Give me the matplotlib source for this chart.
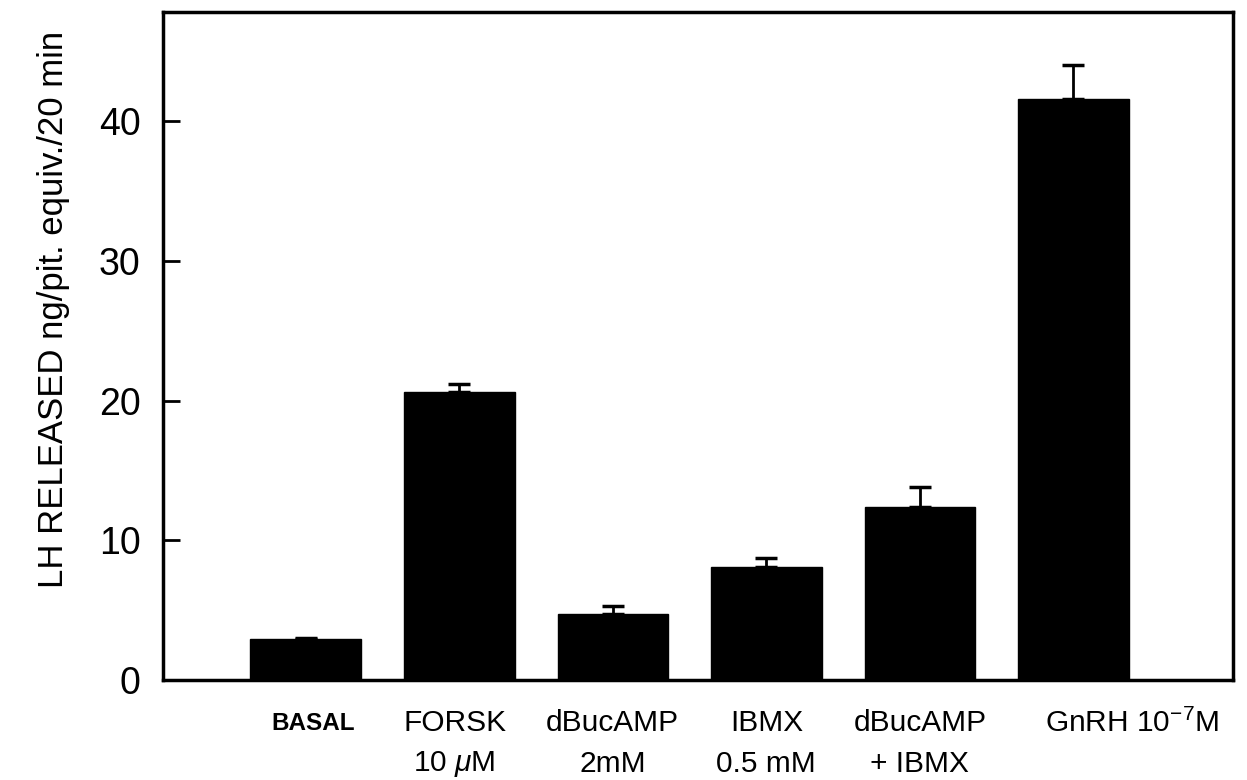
import matplotlib
matplotlib.use("Agg")
import matplotlib.pyplot as plt
import matplotlib.transforms as mtransforms
import numpy as np

# data
labels_top = ["BASAL", "FORSK", "dBucAMP", "IBMX", "dBucAMP", "GnRH 10$^{-7}$M"]
labels_bot = ["", "10 $\\mu$M", "2mM", "0.5 mM", "+ IBMX", ""]
lh_released = [2.9, 20.6, 4.7, 8.1, 12.4, 41.6]
sem = [0.1, 0.55, 0.6, 0.6, 1.4, 2.4]

plt.rcParams.update({
    "font.family": ["Liberation Sans", "DejaVu Sans"],
    "mathtext.fontset": "custom",
    "mathtext.rm": "Liberation Sans",
    "mathtext.it": "Liberation Sans:italic",
})

fig = plt.figure(figsize=(12.47, 7.8), dpi=100)
ax = fig.add_axes([0.1307, 0.1282, 0.8581, 0.8564])

x = np.arange(len(lh_released))
yerr = [np.zeros(len(sem)), sem]
ax.bar(x, lh_released, width=0.72, color="black", edgecolor="black", zorder=2)
ax.errorbar(x, lh_released, yerr=yerr, fmt="none", ecolor="black",
            elinewidth=2, capsize=8, capthick=2.5, zorder=3)

ax.set_xlim(-0.93, 6.04)
ax.set_ylim(0, 47.8)
ax.set_yticks([0, 10, 20, 30, 40])
ax.tick_params(axis="y", direction="in", length=12, width=2, labelsize=27, pad=16)
ax.set_xticks([])
for s in ax.spines.values():
    s.set_linewidth(2.5)

ax.set_ylabel("LH RELEASED ng/pit. equiv./20 min", fontsize=25)
ax.yaxis.set_label_coords(-0.087, 0.555)

# category labels under the axis
trans = mtransforms.blended_transform_factory(ax.transData, ax.transAxes)
shift = [0.05, -0.03, 0, 0, 0, 0.38]
for i, (t, b) in enumerate(zip(labels_top, labels_bot)):
    fs = 17.5 if t == "BASAL" else 21.5
    wt = "bold" if t == "BASAL" else "normal"
    ax.text(x[i] + shift[i], -0.065, t, transform=trans, ha="center",
            va="center", fontsize=fs, fontweight=wt)
    if b:
        ax.text(x[i] + shift[i], -0.125, b, transform=trans, ha="center",
                va="center", fontsize=21.5)

fig.savefig("out.png", dpi=100)
